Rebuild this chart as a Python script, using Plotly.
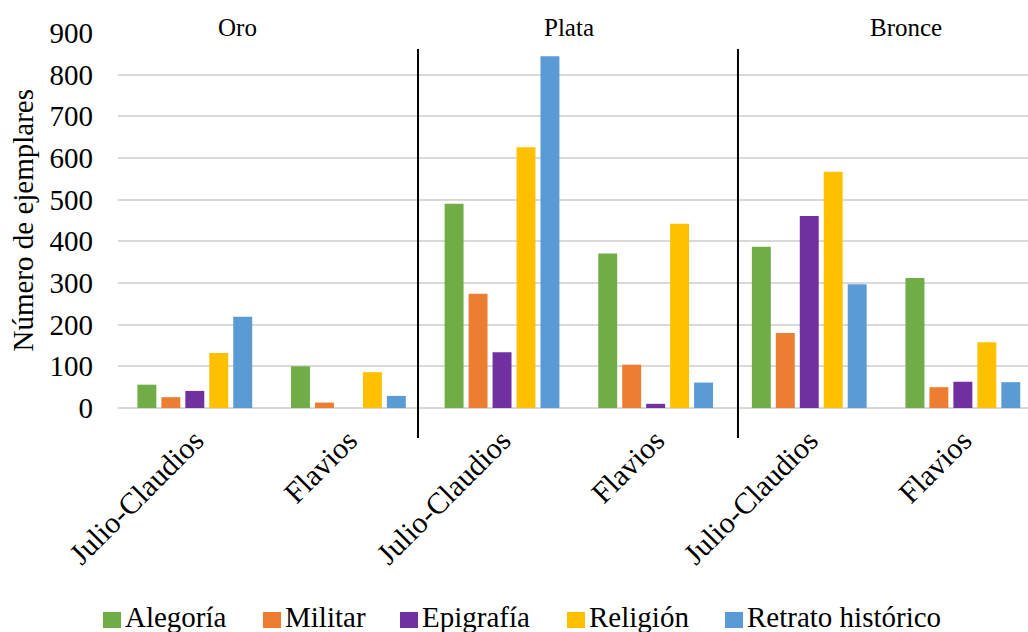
import plotly.graph_objects as go

# Periods on the x axis, grouped by metal
periods = ["Julio-Claudios", "Flavios", "Julio-Claudios", "Flavios", "Julio-Claudios", "Flavios"]
metals = ["Oro", "Plata", "Bronce"]

# Number of specimens per iconographic type
alegoria = [56, 100, 490, 371, 387, 312]
militar = [26, 13, 274, 104, 180, 50]
epigrafia = [41, 0, 134, 10, 461, 63]
religion = [132, 86, 626, 442, 567, 158]
retrato = [219, 29, 844, 61, 297, 62]

series = [
    ("Alegoría", alegoria, "#70AD47"),
    ("Militar", militar, "#ED7D31"),
    ("Epigrafía", epigrafia, "#7030A0"),
    ("Religión", religion, "#FFC000"),
    ("Retrato histórico", retrato, "#5B9BD5"),
]

FONT = "Liberation Serif"
W, H = 1028, 632
M_L, M_R, M_T, M_B = 118, 0, 33, 224
PLOT_W, PLOT_H = W - M_L - M_R, H - M_T - M_B


def px_x(px):
    """Page pixel x -> paper coordinate."""
    return (px - M_L) / PLOT_W


def px_y(py):
    """Page pixel y -> paper coordinate."""
    return (H - M_B - py) / PLOT_H


xpos = list(range(len(periods)))

fig = go.Figure()
for name, vals, color in series:
    fig.add_trace(go.Bar(
        x=xpos, y=vals, name=name, marker_color=color,
        marker_line_width=0, showlegend=False,
    ))

# Metal labels above each group
for label, xc in zip(metals, [0.281, 2.436, 4.63]):
    fig.add_annotation(
        x=xc, xref="x", y=px_y(28), yref="paper", text=label,
        showarrow=False, yanchor="middle", xanchor="center",
        font=dict(family=FONT, size=25, color="black"),
        bgcolor="white", borderpad=1,
    )

# Separators between metals
for xs in [1.453, 3.536]:
    fig.add_shape(
        type="line", x0=xs, x1=xs, xref="x", y0=px_y(49), y1=px_y(438), yref="paper",
        line=dict(color="black", width=2),
    )

# Y axis title
fig.add_annotation(
    x=px_x(22), xref="paper", y=0.5, yref="paper", text="Número de ejemplares",
    textangle=-90, showarrow=False, xanchor="center", yanchor="middle",
    font=dict(family=FONT, size=29, color="black"),
)

# Legend row: coloured key square followed by its label
legend_left = [103, 263, 400, 567, 725]
for (name, _, color), x0 in zip(series, legend_left):
    fig.add_shape(
        type="rect", xref="paper", yref="paper",
        x0=px_x(x0), x1=px_x(x0 + 18), y0=px_y(628), y1=px_y(612),
        fillcolor=color, line=dict(width=0),
    )
    fig.add_annotation(
        x=px_x(x0 + 21), xref="paper", y=px_y(617), yref="paper", text=name,
        showarrow=False, xanchor="left", yanchor="middle",
        font=dict(family=FONT, size=29, color="black"), borderpad=0,
    )

fig.update_layout(
    width=W, height=H,
    margin=dict(l=M_L, r=M_R, t=M_T, b=M_B, autoexpand=False),
    paper_bgcolor="white", plot_bgcolor="white",
    barmode="group", bargap=0.22, bargroupgap=0.21,
    font=dict(family=FONT, size=29, color="black"),
    showlegend=False,
    xaxis=dict(
        tickmode="array", tickvals=xpos, ticktext=periods,
        tickangle=-45, range=[-0.5, 5.424], automargin=False,
        showgrid=False, zeroline=False, showline=False, ticks="",
        ticklabelstandoff=8,
        tickfont=dict(family=FONT, size=30, color="black"),
    ),
    yaxis=dict(
        range=[0, 900], tickvals=list(range(0, 901, 100)), automargin=False,
        showgrid=True, gridcolor="#D9D9D9", gridwidth=1.5,
        zeroline=True, zerolinecolor="#D9D9D9", zerolinewidth=1.5,
        showline=False, ticks="", ticklabelstandoff=24,
        tickfont=dict(family=FONT, size=29, color="black"),
    ),
)

fig.write_html("out.html")
